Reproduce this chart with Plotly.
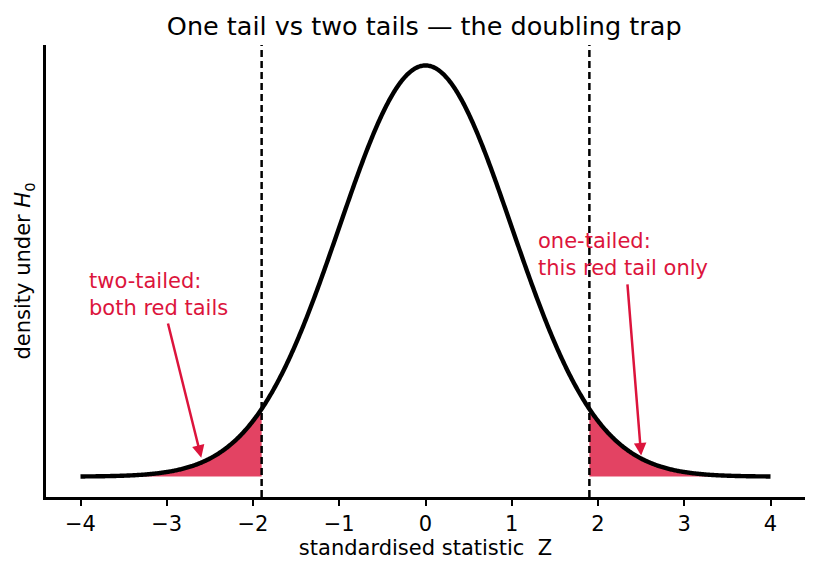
import numpy as np
import plotly.graph_objects as go

# ---- data ----
z_min, z_max = -4.0, 4.0
z_crit = 1.9
title_text = "One tail vs two tails — the doubling trap"
x_ticks = [-4, -3, -2, -1, 0, 1, 2, 3, 4]
left_note = "two-tailed:<br>both red tails"
right_note = "one-tailed:<br>this red tail only"
left_note_pos = (-3.925, 0.1765)
right_note_pos = (1.285, 0.216)
left_arrow = {"tail": (-2.99, 0.150), "tip": (-2.6, 0.0184)}
right_arrow = {"tail": (2.34, 0.188), "tip": (2.5, 0.0204)}

z = np.linspace(z_min, z_max, 801)


def npdf(v):
    return np.exp(-np.asarray(v) ** 2 / 2) / np.sqrt(2 * np.pi)


pdf = npdf(z)

RED = "#dc143c"
FILL = "rgba(220,20,60,0.8)"
FONT = "DejaVu Sans"

fig = go.Figure()

zl = np.append(z[z <= -z_crit], -z_crit)
fig.add_trace(go.Scatter(x=zl, y=npdf(zl), fill="tozeroy", fillcolor=FILL, line=dict(width=0, simplify=False),
                         mode="lines", hoverinfo="skip", showlegend=False))
zr = np.insert(z[z >= z_crit], 0, z_crit)
fig.add_trace(go.Scatter(x=zr, y=npdf(zr), fill="tozeroy", fillcolor=FILL, line=dict(width=0, simplify=False),
                         mode="lines", hoverinfo="skip", showlegend=False))

fig.add_trace(go.Scatter(x=z, y=pdf, mode="lines", line=dict(color="black", width=4.4, simplify=False),
                         showlegend=False))

for zc in (-z_crit, z_crit):
    fig.add_shape(type="line", x0=zc, x1=zc, y0=0, y1=1, xref="x", yref="paper",
                  line=dict(color="black", width=2.5, dash="7px,4px"))

for txt, pos in ((left_note, left_note_pos), (right_note, right_note_pos)):
    fig.add_annotation(x=pos[0], y=pos[1], text=txt, showarrow=False, xanchor="left", yanchor="middle",
                       align="left", font=dict(family=FONT, size=21, color=RED))

for arr in (left_arrow, right_arrow):
    fig.add_annotation(x=arr["tip"][0], y=arr["tip"][1], ax=arr["tail"][0], ay=arr["tail"][1],
                       xref="x", yref="y", axref="x", ayref="y", text="", showarrow=True,
                       arrowhead=2, arrowsize=1.0, arrowwidth=2.5, arrowcolor=RED, standoff=0, startstandoff=0)

fig.update_layout(
    width=819, height=573, autosize=False,
    margin=dict(l=46, r=14, t=45, b=76),
    paper_bgcolor="white", plot_bgcolor="white",
    font=dict(family=FONT, size=21, color="black"),
    title=dict(text=title_text, x=0.518, xanchor="center", y=0.955, yanchor="middle",
               font=dict(family=FONT, size=25.5, color="black")),
    xaxis=dict(range=[-4.4, 4.4], tickvals=x_ticks, showgrid=False, zeroline=False,
               showline=True, linecolor="black", linewidth=2.5, ticks="outside", ticklen=6,
               tickwidth=1.8, tickcolor="black", tickfont=dict(size=21),
               title=dict(text="standardised statistic  Z", font=dict(size=21), standoff=6)),
    yaxis=dict(range=[-0.0198, 0.4188], showgrid=False, zeroline=False, showticklabels=False,
               showline=True, linecolor="black", linewidth=2.5, ticks="",
               title=dict(text="density under <i>H</i><sub>0</sub>", font=dict(size=21), standoff=7)),
)

fig.write_html("out.html")
